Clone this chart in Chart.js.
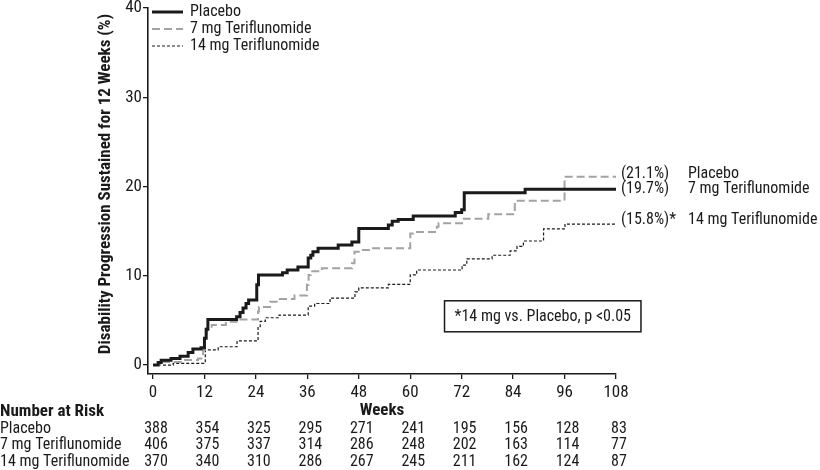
<!DOCTYPE html>
<html><head><meta charset="utf-8">
<script src="https://cdn.jsdelivr.net/npm/chart.js@4.4.0/dist/chart.umd.min.js"></script>
<style>html,body{margin:0;padding:0;background:#fff;}#wrap{width:820px;height:470px;}</style>
</head><body><div id="wrap"><canvas id="c" width="820" height="470"></canvas></div>
<script>
const FONT = '"Liberation Sans Narrow","Arial Narrow","Roboto Condensed","DejaVu Sans Condensed",sans-serif';
const INK = '#1a1a1a';

const weekTicks = [0, 12, 24, 36, 48, 60, 72, 84, 96, 108];
const pctTicks = [0, 10, 20, 30, 40];
const seriesNames = ['Placebo', '7 mg Teriflunomide', '14 mg Teriflunomide'];
const yTitle = 'Disability Progression Sustained for 12 Weeks (%)';

const placeboWeeks = [0,1.2,1.9,4.2,6.3,8.2,9.3,11.2,12.0,12.4,12.8,19.5,20.3,21.0,21.7,22.3,24.2,24.6,30.2,31.3,33.8,36.2,36.8,37.3,38.5,43.2,46.4,48.0,54.9,55.8,57.2,60.7,70.5,72.0,72.6,86.8,108];
const placeboPct   = [0,0.3,0.55,0.75,1.0,1.4,1.8,1.95,3.0,4.0,5.1,5.4,5.9,6.4,6.9,7.3,9.0,10.1,10.35,10.65,11.0,12.0,12.3,12.7,13.1,13.45,13.8,15.3,15.7,16.1,16.3,16.7,17.1,17.4,19.3,19.7,19.7];

const mg7Weeks = [0,1.9,6.5,10.5,11.7,12.1,12.5,13.7,17.0,19.5,24.5,24.7,27.3,29.6,33.0,35.9,36.3,36.8,39.4,46.4,47.0,48.5,50.4,60.0,60.7,66.2,66.6,72.5,78.2,84.4,96.0,108];
const mg7Pct   = [0,0.35,0.56,0.75,1.7,3.0,4.1,4.5,4.85,5.1,6.0,6.5,7.1,7.4,7.8,9.0,10.1,10.5,10.85,11.4,12.7,12.9,13.1,14.75,14.9,15.5,15.9,16.4,16.9,18.4,21.1,21.1];

const mg14Weeks = [0,4.7,12.2,15.2,19.6,24.5,25.0,26.2,29.4,36.2,37.7,41.3,47.1,48.0,54.9,60.0,61.5,72.1,73.2,79.1,83.3,84.9,86.4,91.1,96.1,108];
const mg14Pct   = [0,0.2,1.7,2.05,2.7,4.3,4.9,5.3,5.6,6.6,6.9,7.5,8.2,8.65,9.05,10.1,10.65,11.2,11.9,12.3,12.8,13.3,13.9,15.25,15.8,15.8];

const endPctLabels = ['(21.1%)', '(19.7%)', '(15.8%)*'];
const endPctValues = [21.1, 19.7, 15.8];
const endNames = ['Placebo', '7 mg Teriflunomide', '14 mg Teriflunomide'];

const riskWeeks = [0, 12, 24, 36, 48, 60, 72, 84, 96, 108];
const placeboRisk = [388,354,325,295,271,241,195,156,128,83];
const mg7Risk = [406,375,337,314,286,248,202,163,114,77];
const mg14Risk = [370,340,310,286,267,245,211,162,124,87];

const noteText = '*14 mg vs. Placebo, p <0.05';

const styles = [
  {color: INK, width: 3, dash: []},
  {color: '#a3a3a3', width: 2, dash: [8, 4]},
  {color: INK, width: 1.2, dash: [3, 2]}
];

function toPts(w, p) { return w.map((x, i) => ({x: x, y: p[i]})); }

const overlay = {
  id: 'overlay',
  afterDraw(chart) {
    const ctx = chart.ctx;
    const xs = chart.scales.x, ys = chart.scales.y;
    const area = chart.chartArea;
    ctx.save();
    ctx.fillStyle = INK;
    ctx.textBaseline = 'middle';
    // y title
    ctx.save();
    ctx.font = 'bold 17px ' + FONT;
    ctx.translate(106, (area.top + area.bottom) / 2 - 7);
    ctx.rotate(-Math.PI / 2);
    ctx.textAlign = 'center';
    ctx.fillText(yTitle, 0, 0);
    ctx.restore();
    ctx.font = '16px ' + FONT;
    // legend
    const legY = [12, 29, 46];
    seriesNames.forEach((n, i) => {
      const s = styles[i];
      ctx.beginPath();
      ctx.setLineDash(s.dash);
      ctx.lineWidth = s.width;
      ctx.strokeStyle = s.color;
      ctx.moveTo(152, legY[i]); ctx.lineTo(183, legY[i]);
      ctx.stroke();
      ctx.setLineDash([]);
      ctx.textAlign = 'left';
      ctx.fillText(n, 190, legY[i]);
    });
    // end labels
    const endX = xs.getPixelForValue(108);
    const offs = [-2.5, 0, -4];
    endPctLabels.forEach((t, i) => {
      const yy = ys.getPixelForValue(endPctValues[i]) + offs[i];
      ctx.textAlign = 'left';
      ctx.fillText(t, endX + 5, yy);
      ctx.fillText(endNames[i], endX + 72, yy);
    });
    // note box
    const bx = xs.getPixelForValue(68), by = ys.getPixelForValue(7.2);
    const tw = ctx.measureText(noteText).width;
    ctx.lineWidth = 1.5; ctx.strokeStyle = INK;
    ctx.strokeRect(bx, by, tw + 20, 31);
    ctx.fillText(noteText, bx + 10, by + 16);
    // risk table
    ctx.font = 'bold 17px ' + FONT;
    ctx.textAlign = 'left';
    ctx.fillText('Number at Risk', 0, 412);
    ctx.font = '16px ' + FONT;
    const rows = [placeboRisk, mg7Risk, mg14Risk];
    const rowY = [429, 445, 462];
    rows.forEach((r, i) => {
      ctx.textAlign = 'left';
      ctx.fillText(seriesNames[i], 0, rowY[i]);
      ctx.textAlign = 'center';
      r.forEach((v, j) => ctx.fillText(String(v), xs.getPixelForValue(riskWeeks[j]) + 3, rowY[i]));
    });
    ctx.restore();
  }
};

new Chart(document.getElementById('c'), {
  type: 'line',
  data: {
    datasets: [
      {label: seriesNames[0], data: toPts(placeboWeeks, placeboPct)},
      {label: seriesNames[1], data: toPts(mg7Weeks, mg7Pct)},
      {label: seriesNames[2], data: toPts(mg14Weeks, mg14Pct)}
    ].map((d, i) => Object.assign(d, {
      stepped: true, borderColor: styles[i].color, borderWidth: styles[i].width,
      borderDash: styles[i].dash, fill: false, pointRadius: 0, tension: 0,
      borderCapStyle: 'butt', borderJoinStyle: 'miter'
    }))
  },
  options: {
    responsive: false, animation: false, devicePixelRatio: 1,
    layout: {padding: {left: 95, top: 8, right: 204, bottom: 49}},
    plugins: {legend: {display: false}, tooltip: {enabled: false}},
    scales: {
      x: {
        type: 'linear', min: -1.17, max: 108,
        afterBuildTicks: s => { s.ticks = weekTicks.map(v => ({value: v})); },
        afterFit: s => { s.height = 47; },
        grid: {drawOnChartArea: false, tickLength: 5, color: INK, lineWidth: 1.3},
        border: {display: true, color: INK, width: 1.6},
        ticks: {font: {family: FONT, size: 17}, color: INK, padding: 4, maxRotation: 0, autoSkip: false},
        title: {display: true, text: 'Weeks', font: {family: FONT, size: 17, weight: 'bold'}, color: INK, padding: 0}
      },
      y: {
        type: 'linear', min: -1, max: 40,
        afterBuildTicks: s => { s.ticks = pctTicks.map(v => ({value: v})); },
        afterFit: s => { s.width = 53; s.paddingTop = 0; s.paddingBottom = 0; },
        grid: {drawOnChartArea: false, tickLength: 5, color: INK, lineWidth: 1.3},
        border: {display: true, color: INK, width: 1.6},
        ticks: {font: {family: FONT, size: 17}, color: INK, padding: 1},
        title: {display: false}
      }
    }
  },
  plugins: [overlay]
});
</script></body></html>
